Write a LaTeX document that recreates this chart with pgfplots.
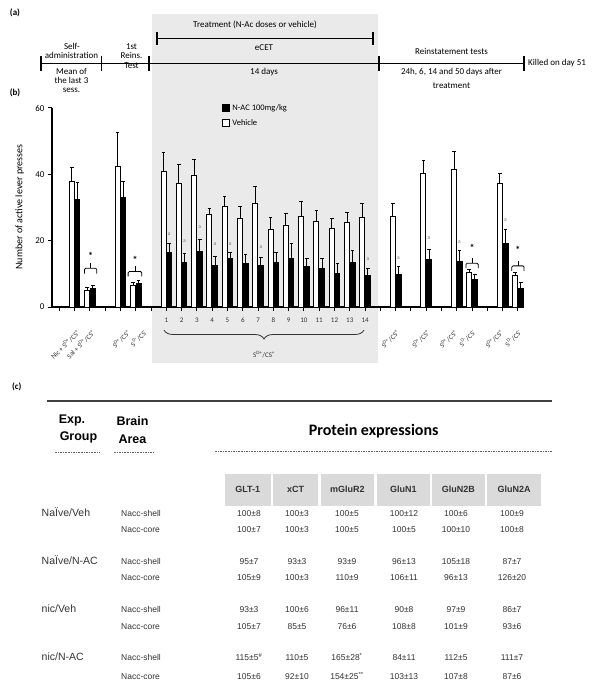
\documentclass[border=0pt]{standalone}
\usepackage{pgfplots}
\pgfplotsset{compat=1.18}
\usepackage{fontspec}
\setmainfont{Carlito}
\newfontfamily\arial{Liberation Sans}
\usetikzlibrary{decorations.pathreplacing}
\definecolor{bgshade}{RGB}{234,234,234}
\definecolor{hdr}{RGB}{218,218,218}
\newcommand{\fs}[1]{\fontsize{#1}{#1}\selectfont}
\newcommand{\SD}[2]{S\textsuperscript{D#1}/CS\textsuperscript{#2}}
\tikzset{
 tl/.style={font=\fs{9}, inner sep=0, anchor=mid},
 val/.style={font=\arial\fs{8.5}, inner sep=0, anchor=mid, text=black!80},
 rl/.style={font=\fs{7}, rotate=45, anchor=north east, inner sep=0, text=black!80},
 sa/.style={font=\fs{5.5}, inner sep=0, text=black!55},
}
\newcommand{\trow}[7]{%
 \node[val] at (249pt,-#1pt) {#2};
 \node[val] at (297pt,-#1pt) {#3};
 \node[val] at (347pt,-#1pt) {#4};
 \node[val] at (404pt,-#1pt) {#5};
 \node[val] at (456pt,-#1pt) {#6};
 \node[val] at (512pt,-#1pt) {#7};}
% significance bracket: x1, x2, xmid, base, line, stem, star
\newcommand{\sig}[7]{%
 \draw[line width=0.8pt, rounded corners=1.2pt] (axis cs:#1,#4) -- (axis cs:#1,#5) -- (axis cs:#2,#5) -- (axis cs:#2,#4);
 \draw[line width=0.8pt] (axis cs:#3,#5) -- (axis cs:#3,#6);
 \node[font=\bfseries\fs{10}, inner sep=0] at (axis cs:#3,#7) {*};}
\begin{document}
\begin{tikzpicture}
\path[use as bounding box] (0,0) rectangle (600pt,-684pt);
\fill[bgshade] (152pt,-14pt) rectangle (378pt,-363pt);
% ---------------- (a) timeline
\node[font=\bfseries\fs{9}, inner sep=0, anchor=mid] at (15pt,-13pt) {(a)};
\draw[line width=1.4pt] (41pt,-63.3pt) -- (524pt,-63.3pt);
\foreach \xx in {41,101.4,149,379,524} \draw[line width=1.4pt] (\xx pt,-56pt) -- (\xx pt,-71.5pt);
\draw[line width=1.2pt] (157pt,-38.3pt) -- (373pt,-38.3pt);
\draw[line width=1.2pt] (157pt,-31.7pt) -- (157pt,-45pt);
\draw[line width=1.2pt] (373pt,-31.7pt) -- (373pt,-45pt);
\node[tl] at (72pt,-46.7pt) {Self-};
\node[tl] at (71.5pt,-56.5pt) {administration};
\node[tl] at (131.5pt,-46.7pt) {1st};
\node[tl] at (131.5pt,-56.5pt) {Reins.};
\node[tl] at (131.5pt,-66pt) {Test};
\node[tl] at (71.5pt,-72pt) {Mean of};
\node[tl] at (71.5pt,-81pt) {the last 3};
\node[tl] at (71.5pt,-90pt) {sess.};
\node[tl] at (255pt,-25pt) {Treatment (N-Ac doses or vehicle)};
\node[tl] at (264pt,-48.3pt) {eCET};
\node[tl] at (264pt,-72pt) {14 days};
\node[tl] at (451.5pt,-51.7pt) {Reinstatement tests};
\node[tl] at (451.5pt,-72pt) {24h, 6, 14 and 50 days after};
\node[tl] at (451.5pt,-86pt) {treatment};
\node[font=\fs{9}, inner sep=0, anchor=mid west] at (528pt,-63.3pt) {Killed on day 51};
% ---------------- (b) chart
\node[font=\bfseries\fs{9}, inner sep=0, anchor=mid] at (15pt,-93pt) {(b)};
\node[font=\fs{10}, rotate=90, inner sep=0, anchor=mid] at (20pt,-207pt) {Number of active lever presses};
\begin{axis}[
 at={(52pt,-307pt)}, anchor=south west,
 scale only axis, width=469pt, height=199pt,
 xmin=-0.48, xmax=30.2, ymin=0, ymax=60,
 axis x line*=bottom, axis y line*=left,
 axis line style={line width=1.2pt, -},
 xtick={0,...,30}, ytick={0,20,40,60},
 xticklabels={{},{},{},{},{},{},{},1,2,3,4,5,6,7,8,9,10,11,12,13,14,{},{},{},{},{},{},{},{},{},{}},
 tick align=outside, major tick length=4pt,
 tick style={line width=1pt, black},
 xticklabel style={font=\fs{7}, yshift=-3pt, text=black!80},
 yticklabel style={font=\fs{9}},
 /pgf/number format/assume math mode=true,
 ybar, bar width=5pt,
 clip=false,
 legend reversed,
 legend style={at={(0.362,1.03)}, anchor=north west, draw=none, fill=none,
   font=\fs{8.5}, row sep=4pt, inner sep=0pt, cells={anchor=west}},
]
\addplot[fill=white, draw=black, line width=0.9pt, bar shift=-2.8pt,
  legend image code/.code={\draw[fill=white, draw=black, line width=0.9pt] (0pt,-3.5pt) rectangle (7.5pt,3.5pt);},
  error bars/.cd, y dir=plus, y explicit,
  error bar style={line width=0.9pt, solid},
  error mark options={rotate=90, mark size=1.8pt, line width=0.9pt}]
 coordinates {
 (1,38) +- (0,4)
 (2,5) +- (0,1)
 (4,42.5) +- (0,10)
 (5,6.5) +- (0,1)
 (7,40.9) +- (0,5.8)
 (8,37.4) +- (0,5.5)
 (9,39.8) +- (0,4.8)
 (10,27.8) +- (0,1.9)
 (11,30.4) +- (0,3.0)
 (12,26.8) +- (0,3.6)
 (13,31.2) +- (0,5.2)
 (14,23.3) +- (0,3.8)
 (15,24.6) +- (0,3.7)
 (16,27.3) +- (0,4.6)
 (17,25.7) +- (0,3.4)
 (18,23.8) +- (0,2.8)
 (19,25.6) +- (0,3.0)
 (20,27.1) +- (0,4.0)
 (22,27.4) +- (0,3.8)
 (24,40.4) +- (0,3.7)
 (26,41.4) +- (0,5.4)
 (27,10.3) +- (0,1.0)
 (29,37.2) +- (0,3.0)
 (30,9.4) +- (0,1.1)
 };
\addlegendentry{Vehicle}
\addplot[fill=black, draw=black, line width=0.9pt, bar shift=2.8pt,
  legend image code/.code={\draw[fill=black, draw=black, line width=0.9pt] (0pt,-3.5pt) rectangle (7.5pt,3.5pt);},
  error bars/.cd, y dir=plus, y explicit,
  error bar style={line width=0.9pt, solid},
  error mark options={rotate=90, mark size=1.8pt, line width=0.9pt}]
 coordinates {
 (1,32.5) +- (0,5)
 (2,5.5) +- (0,1)
 (4,33) +- (0,5)
 (5,7) +- (0,1)
 (7,16.3) +- (0,3.0)
 (8,13.5) +- (0,2.6)
 (9,16.7) +- (0,3.6)
 (10,12.5) +- (0,2.8)
 (11,14.7) +- (0,1.6)
 (12,13.1) +- (0,2.7)
 (13,12.5) +- (0,2.4)
 (14,13.3) +- (0,3.0)
 (15,14.7) +- (0,4.4)
 (16,12.3) +- (0,2.4)
 (17,11.7) +- (0,3.0)
 (18,10.1) +- (0,3.0)
 (19,13.3) +- (0,3.7)
 (20,9.4) +- (0,2.1)
 (22,9.8) +- (0,2.3)
 (24,14.3) +- (0,3.0)
 (26,13.7) +- (0,3.3)
 (27,8.2) +- (0,1.5)
 (29,19.1) +- (0,4.2)
 (30,5.7) +- (0,1.7)
 };
\addlegendentry{N-AC 100mg/kg}
% significance brackets
\sig{1.65}{2.45}{2.05}{10.1}{11.7}{13.3}{15.4}
\sig{4.50}{5.39}{4.95}{9.2}{10.7}{12.3}{14.2}
\sig{26.6}{27.4}{27.0}{11.7}{13.2}{14.8}{17.9}
\sig{29.6}{30.4}{30.0}{10.9}{12.4}{14.0}{17.1}
% small markers
\node[sa] at (axis cs:7.18,22.1) {a};
\node[sa] at (axis cs:8.18,19.8) {a};
\node[sa] at (axis cs:9.18,24.1) {a};
\node[sa] at (axis cs:10.18,18.8) {a};
\node[sa] at (axis cs:11.18,18.9) {a};
\node[sa] at (axis cs:13.18,18.1) {a};
\node[sa] at (axis cs:20.18,14.4) {a};
\node[sa] at (axis cs:22.18,14.7) {a};
\node[sa] at (axis cs:24.18,20.7) {a};
\node[sa] at (axis cs:26.18,19.5) {a};
\node[sa] at (axis cs:29.18,26.1) {a};
% rotated category labels
\node[rl] at (axis cs:1.1,-6.5) {Nic + \SD{+}{+}};
\node[rl] at (axis cs:2.1,-6.5) {Sal + \SD{+}{+}};
\node[rl] at (axis cs:4.4,-6.5) {\SD{+}{+}};
\node[rl] at (axis cs:5.5,-6.5) {\SD{-}{-}};
\node[rl] at (axis cs:22,-6.5) {\SD{+}{+}};
\node[rl] at (axis cs:24,-6.5) {\SD{+}{+}};
\node[rl] at (axis cs:25.8,-6.5) {\SD{+}{+}};
\node[rl] at (axis cs:27,-6.5) {\SD{-}{-}};
\node[rl] at (axis cs:28.8,-6.5) {\SD{+}{+}};
\node[rl] at (axis cs:30,-6.5) {\SD{-}{-}};
\end{axis}
\draw[line width=0.8pt, black!80, decorate, decoration={brace, mirror, amplitude=9pt}] (164pt,-330pt) -- (364pt,-330pt);
\node[font=\fs{7}, inner sep=0, anchor=mid, text=black!80] at (264pt,-355pt) {\SD{+}{+}};
% ---------------- (c) table
\node[font=\bfseries\fs{9}, inner sep=0, anchor=mid] at (16.7pt,-387.3pt) {(c)};
\draw[line width=1.6pt, black!75] (46.7pt,-401pt) -- (551.7pt,-401pt);
\node[font=\arial\bfseries\fs{12.5}, inner sep=0, anchor=mid] at (72pt,-420.7pt) {Exp.};
\node[font=\arial\bfseries\fs{12.5}, inner sep=0, anchor=mid] at (78.5pt,-437.7pt) {Group};
\node[font=\arial\bfseries\fs{12.5}, inner sep=0, anchor=mid] at (132.5pt,-422.7pt) {Brain};
\node[font=\arial\bfseries\fs{12.5}, inner sep=0, anchor=mid] at (132.5pt,-440.7pt) {Area};
\node[font=\bfseries\fs{16}, inner sep=0, anchor=mid] at (373.7pt,-433.3pt) {Protein expressions};
\draw[line width=1.1pt, black!60, dash pattern=on 1.6pt off 1pt] (55pt,-452.3pt) -- (100pt,-452.3pt);
\draw[line width=1.1pt, black!60, dash pattern=on 1.6pt off 1pt] (114pt,-452.3pt) -- (154pt,-452.3pt);
\draw[line width=1.1pt, black!60, dash pattern=on 1.6pt off 1pt] (215pt,-451.7pt) -- (551.7pt,-451.7pt);
\foreach \a/\b/\c/\t in {225/270.5/247.7/GLT-1, 272.8/318.4/295.6/xCT, 320.7/374/347.4/mGluR2, 376.8/430/403.4/GluN1, 431.8/485/458.4/GluN2B, 487.2/541.2/514.2/GluN2A}{
 \fill[hdr] (\a pt,-474pt) rectangle (\b pt,-506pt);
 \node[font=\arial\bfseries\fs{9}, inner sep=0, anchor=mid, text=black!80] at (\c pt,-490pt) {\t};
}
\foreach \yy/\t in {514.3/NaÏve\slash Veh, 561.7/NaÏve\slash N-AC, 610/nic\slash Veh, 658.3/nic\slash N-AC}
 \node[font=\arial\fs{10.5}, inner sep=0, anchor=mid west, text=black!80] at (41.5pt,-\yy pt) {\t};
\foreach \yy/\t in {514.3/shell, 530.5/core, 561.7/shell, 578.3/core, 610/shell, 627.3/core, 658.3/shell, 676.7/core}
 \node[font=\arial\fs{8.5}, inner sep=0, anchor=mid west, text=black!80] at (121pt,-\yy pt) {Nacc-\t};
\trow{514.3}{100±8}{100±3}{100±5}{100±12}{100±6}{100±9}
\trow{530.5}{100±7}{100±3}{100±5}{100±5}{100±10}{100±8}
\trow{561.7}{95±7}{93±3}{93±9}{96±13}{105±18}{87±7}
\trow{578.3}{105±9}{100±3}{110±9}{106±11}{96±13}{126±20}
\trow{610}{93±3}{100±6}{96±11}{90±8}{97±9}{86±7}
\trow{627.3}{105±7}{85±5}{76±6}{108±8}{101±9}{93±6}
\trow{658.3}{115±5\textsuperscript{\#}}{110±5}{165±28\textsuperscript{*}}{84±11}{112±5}{111±7}
\trow{676.7}{105±6}{92±10}{154±25\textsuperscript{**}}{103±13}{107±8}{87±6}
\end{tikzpicture}
\end{document}
